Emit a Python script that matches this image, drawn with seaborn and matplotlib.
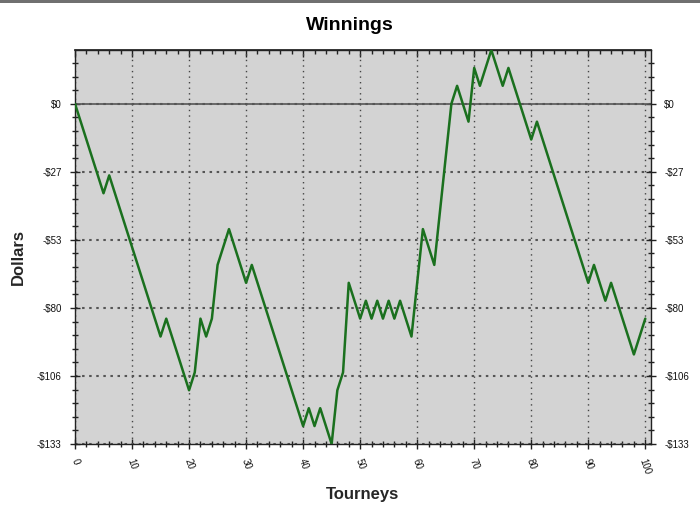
import numpy as np
import pandas as pd
import matplotlib
matplotlib.use('Agg')
import matplotlib.pyplot as plt
from matplotlib.ticker import MultipleLocator, AutoMinorLocator
from matplotlib.patches import Rectangle
import seaborn as sns

# Cumulative winnings after each tourney (dollars)
tourneys = list(range(0, 101))
winnings = [
    0, -7, -14, -21, -28, -35, -28, -35, -42, -49,
    -56, -63, -70, -77, -84, -91, -84, -91, -98, -105,
    -112, -105, -84, -91, -84, -63, -56, -49, -56, -63,
    -70, -63, -70, -77, -84, -91, -98, -105, -112, -119,
    -126, -119, -126, -119, -126, -133, -112, -105, -70, -77,
    -84, -77, -84, -77, -84, -77, -84, -77, -84, -91,
    -70, -49, -56, -63, -42, -21, 0, 7, 0, -7,
    14, 7, 14, 21, 14, 7, 14, 7, 0, -7,
    -14, -7, -14, -21, -28, -35, -42, -49, -56, -63,
    -70, -63, -70, -77, -70, -77, -84, -91, -98, -91,
    -84,
]
x_ticks = list(range(0, 101, 10))

df = pd.DataFrame({'tourney': tourneys, 'winnings': winnings})

sns.set_theme(style='ticks')
plt.rcParams['font.family'] = ['Liberation Sans', 'DejaVu Sans']
plt.rcParams['text.color'] = 'black'

fig = plt.figure(figsize=(7, 5.07), dpi=100)
ax = fig.add_axes([75 / 700, 1 - 444 / 507, 576 / 700, 394 / 507])
ax.set_facecolor('#d3d3d3')

y_min, y_max = min(winnings), max(winnings)
y_ticks = np.linspace(y_min, 0, 6)
ax.set_xlim(0, 101)
ax.set_ylim(y_min, y_max)

ax.set_xticks(x_ticks)
ax.xaxis.set_minor_locator(MultipleLocator(2))
ax.set_yticks(y_ticks)
ax.set_yticklabels(['$0' if v == 0 else f'-${abs(v):.0f}' for v in y_ticks])
ax.yaxis.set_minor_locator(AutoMinorLocator(5))

ax.grid(True, axis='x', which='major', color='#444444', linestyle=(0, (1, 3)), linewidth=1)
ax.grid(True, axis='y', which='major', color='#555555', linestyle=(0, (1.2, 2.2)), linewidth=1.5)
ax.axhline(0, color='#555555', linewidth=1.2, zorder=1.5)

sns.lineplot(data=df, x='tourney', y='winnings', ax=ax, color='#1a701e', linewidth=1.8, zorder=3)

ax.tick_params(axis='both', which='both', direction='inout', colors='#222222', labelcolor='#111111')
ax.tick_params(axis='both', which='major', length=7, width=1, labelsize=7, pad=6)
ax.tick_params(axis='both', which='minor', length=4.5, width=1)
ax.tick_params(axis='y', right=True, labelright=True, which='both')
ax.tick_params(axis='x', which='major', pad=6)
for lab in ax.get_xticklabels():
    lab.set_rotation(-70)
    lab.set_ha('center')
    lab.set_va('top')

top = ax.secondary_xaxis('top')
top.set_xticks(x_ticks)
top.xaxis.set_minor_locator(MultipleLocator(2))
top.tick_params(which='both', direction='in', labeltop=False, colors='#222222')
top.tick_params(which='major', length=5, width=1)
top.tick_params(which='minor', length=3, width=1)
top.set_xticklabels([])

for side in ['left', 'right', 'bottom', 'top']:
    ax.spines[side].set_color('#222222')
    ax.spines[side].set_linewidth(1)
top.spines['top'].set_color('#222222')

ax.set_xlabel('Tourneys', fontsize=12, fontweight='bold')
ax.xaxis.set_label_coords(0.5, -0.11)
ax.set_ylabel('Dollars', fontsize=12, fontweight='bold')
ax.yaxis.set_label_coords(-0.085, 0.475)

fig.text(0.5, 1 - 26 / 507, 'Winnings', ha='center', va='center', fontsize=14, fontweight='bold')

# window frame strip along the top edge
fig.patches.append(Rectangle((0, 1 - 3 / 507), 1, 3 / 507, transform=fig.transFigure,
                             facecolor='#707070', edgecolor='none'))

fig.savefig('out.png', dpi=100)
